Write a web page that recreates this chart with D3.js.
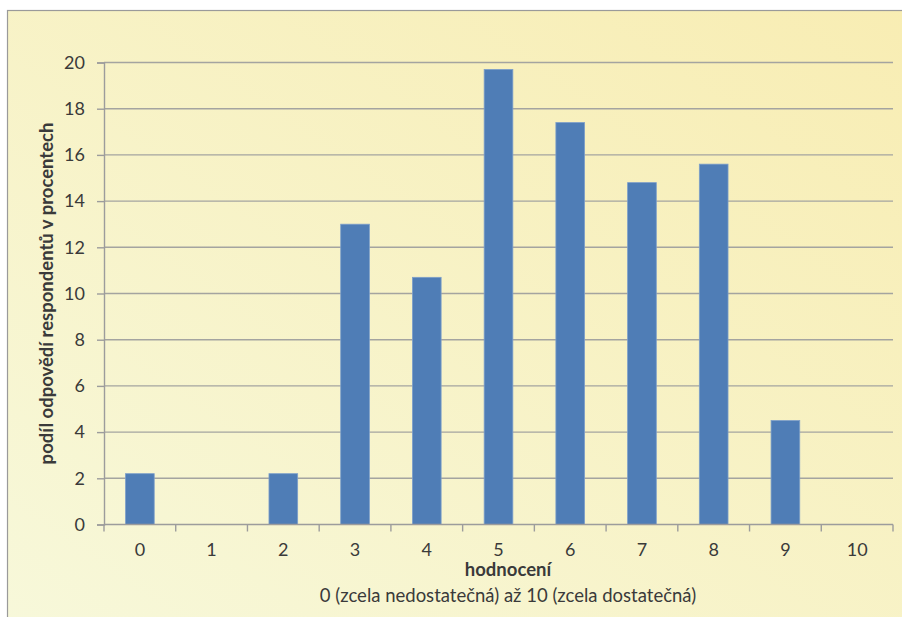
<!DOCTYPE html>
<html>
<head>
<meta charset="utf-8">
<script src="https://cdn.jsdelivr.net/npm/d3@7"></script>
<style>
  html, body { margin: 0; padding: 0; background: #ffffff; }
  svg { display: block; }
  text { font-family: Lato, "Open Sans", sans-serif; fill: #3a3a3a; }
</style>
</head>
<body>
<svg id="chart" width="902" height="617"></svg>
<script>
// Rating categories (0–10) and share of respondents in percent
const categories = ["0", "1", "2", "3", "4", "5", "6", "7", "8", "9", "10"];
const shares = [2.2, 0, 2.2, 13.0, 10.7, 19.7, 17.4, 14.8, 15.6, 4.5, 0];
const yTicks = [0, 2, 4, 6, 8, 10, 12, 14, 16, 18, 20];

const yTitle = "podíl odpovědí respondentů v procentech";
const xTitle = "hodnocení";
const xSubtitle = "0 (zcela nedostatečná) až 10 (zcela dostatečná)";

const svg = d3.select("#chart");

// Pale yellow panel with a soft diagonal gradient
const defs = svg.append("defs");
const grad = defs.append("linearGradient")
  .attr("id", "panelFill")
  .attr("x1", "100%").attr("y1", "0%")
  .attr("x2", "0%").attr("y2", "100%");
grad.append("stop").attr("offset", "0%").attr("stop-color", "#f8edb3");
grad.append("stop").attr("offset", "100%").attr("stop-color", "#f7f8da");

svg.append("rect")
  .attr("x", 7.5).attr("y", 10.5)
  .attr("width", 902).attr("height", 620)
  .attr("fill", "url(#panelFill)")
  .attr("stroke", "#9a9a9a")
  .attr("stroke-width", 1.2);

const plot = { left: 104, right: 893, top: 62.5, bottom: 524.5 };

const x = d3.scaleBand()
  .domain(categories)
  .range([plot.left, plot.right])
  .paddingInner(0.6)
  .paddingOuter(0.3);

const y = d3.scaleLinear()
  .domain([0, 20])
  .range([plot.bottom, plot.top]);

// Horizontal gridlines
svg.append("g")
  .selectAll("line")
  .data(yTicks.filter(t => t > 0))
  .join("line")
  .attr("x1", plot.left).attr("x2", plot.right)
  .attr("y1", d => y(d)).attr("y2", d => y(d))
  .attr("stroke", "#a4a4a0")
  .attr("stroke-width", 1.4);

// Bars
svg.append("g")
  .selectAll("rect")
  .data(categories.map((c, i) => ({ c, v: shares[i] })).filter(d => d.v > 0))
  .join("rect")
  .attr("x", d => x(d.c))
  .attr("y", d => y(d.v))
  .attr("width", x.bandwidth())
  .attr("height", d => y(0) - y(d.v))
  .attr("fill", "#4f7db6")
  .attr("stroke", "#7d9fca")
  .attr("stroke-width", 0.8);

// Y axis
const yAxis = svg.append("g")
  .attr("transform", `translate(${plot.left},0)`)
  .call(d3.axisLeft(y).tickValues(yTicks).tickSize(7).tickPadding(12));
yAxis.select(".domain").attr("stroke", "#9c9c9c").attr("stroke-width", 1.4);
yAxis.selectAll(".tick line").attr("stroke", "#9c9c9c").attr("stroke-width", 1.4);
yAxis.selectAll(".tick text")
  .attr("font-size", 18)
  .style("font-family", "Lato, 'Open Sans', sans-serif")
  .attr("fill", "#3a3a3a");

// X axis: ticks sit on the category boundaries
const xAxisG = svg.append("g")
  .attr("transform", `translate(0,${plot.bottom})`);
xAxisG.append("line")
  .attr("x1", plot.left).attr("x2", plot.right)
  .attr("stroke", "#9c9c9c").attr("stroke-width", 1.4);
const bounds = d3.range(categories.length + 1).map(i => plot.left + i * (plot.right - plot.left) / categories.length);
xAxisG.selectAll("line.tick")
  .data(bounds)
  .join("line")
  .attr("class", "tick")
  .attr("x1", d => d).attr("x2", d => d)
  .attr("y1", 0).attr("y2", 7)
  .attr("stroke", "#9c9c9c").attr("stroke-width", 1.4);
xAxisG.selectAll("text")
  .data(categories)
  .join("text")
  .attr("x", d => x(d) + x.bandwidth() / 2)
  .attr("y", 31.5)
  .attr("text-anchor", "middle")
  .attr("font-size", 18)
  .text(d => d);

// Axis titles
svg.append("text")
  .attr("transform", `translate(53,${(plot.top + plot.bottom) / 2}) rotate(-90)`)
  .attr("text-anchor", "middle")
  .attr("font-size", 18.5)
  .attr("font-weight", "bold")
  .attr("fill", "#222")
  .text(yTitle);

svg.append("text")
  .attr("x", 508).attr("y", 576)
  .attr("text-anchor", "middle")
  .attr("font-size", 18.5)
  .attr("font-weight", "bold")
  .attr("fill", "#222")
  .text(xTitle);

svg.append("text")
  .attr("x", 508).attr("y", 602)
  .attr("text-anchor", "middle")
  .attr("font-size", 18.5)
  .text(xSubtitle);
</script>
</body>
</html>
